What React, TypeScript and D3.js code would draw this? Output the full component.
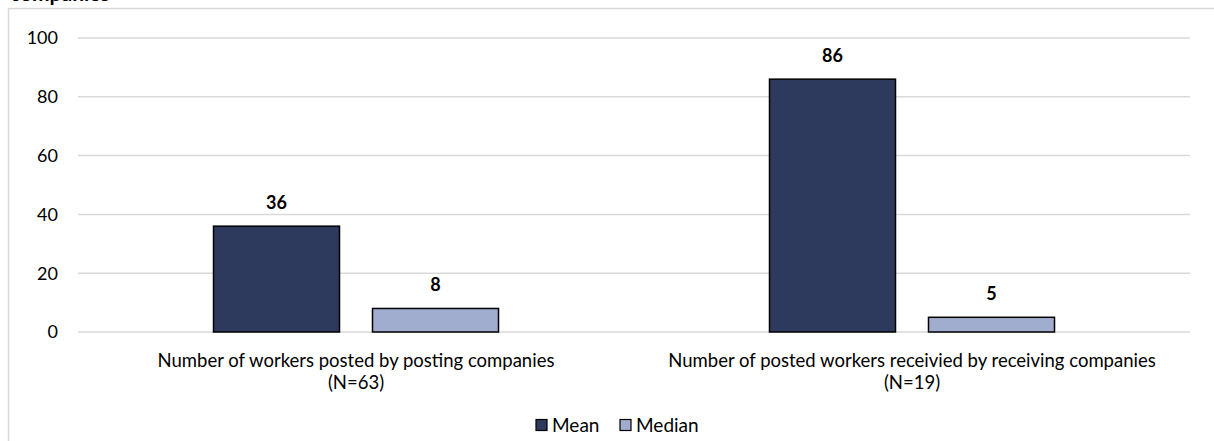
import React from "react";
import * as d3 from "d3";

const categories = [
  ["Number of workers posted by posting companies", "(N=63)"],
  ["Number of posted workers receivied by receiving companies", "(N=19)"],
];
const seriesNames = ["Mean", "Median"];
const meanValues = [36, 86];
const medianValues = [8, 5];
const yTicks = [0, 20, 40, 60, 80, 100];

const colors = ["#2d3a5e", "#a0adcf"];
const FONT = "Lato, 'Liberation Sans', sans-serif";

export default function App() {
  const W = 1214;
  const H = 441;
  const plotLeft = 78;
  const plotRight = 1190;
  const y = d3.scaleLinear().domain([0, 100]).range([332, 38]);
  const x0 = d3
    .scaleBand<number>()
    .domain(categories.map((_, i) => i))
    .range([plotLeft, plotRight])
    .paddingInner(0)
    .paddingOuter(0);
  const groupWidth = 285;
  const x1 = d3
    .scaleBand<number>()
    .domain([0, 1])
    .range([0, groupWidth])
    .paddingInner(33 / 159)
    .paddingOuter(0);
  const series = [meanValues, medianValues];

  return (
    <svg
      width={W}
      height={H}
      style={{ position: "absolute", left: 0, top: 0, background: "#fff" }}
      fontFamily={FONT}
    >
      <text x={10} y={1} fontSize={21} fontWeight="bold" fill="#000">
        companies
      </text>
      {/* chart frame */}
      <path d={`M8.5,${H + 2} V8.5 H${W + 2}`} fill="none" stroke="#d9d9d9" strokeWidth={1.5} />

      {/* gridlines and y tick labels */}
      {yTicks.map((t) => (
        <g key={t}>
          <line
            x1={plotLeft}
            x2={plotRight}
            y1={y(t)}
            y2={y(t)}
            stroke="#d9d9d9"
            strokeWidth={1.5}
          />
          <text
            x={58}
            y={y(t)}
            dy="0.35em"
            textAnchor="end"
            fontSize={18}
            fill="#000"
          >
            {t}
          </text>
        </g>
      ))}

      {/* bars */}
      {categories.map((_, ci) => {
        const gx = x0(ci)! + (x0.bandwidth() - groupWidth) / 2;
        return (
          <g key={ci} transform={`translate(${gx},0)`}>
            {series.map((vals, si) => {
              const v = vals[ci];
              const bx = x1(si)!;
              const bw = x1.bandwidth();
              return (
                <g key={si}>
                  <rect
                    x={bx}
                    y={y(v)}
                    width={bw}
                    height={y(0) - y(v)}
                    fill={colors[si]}
                    stroke="#000"
                    strokeWidth={1.5}
                  />
                  <text
                    x={bx + bw / 2}
                    y={y(v) - 17}
                    textAnchor="middle"
                    fontSize={18}
                    fontWeight="bold"
                    fill="#000"
                  >
                    {v}
                  </text>
                </g>
              );
            })}
          </g>
        );
      })}

      {/* category labels */}
      {categories.map((lines, ci) => {
        const cx = x0(ci)! + x0.bandwidth() / 2;
        return (
          <text key={ci} textAnchor="middle" fontSize={18.5} fill="#000">
            {lines.map((ln, li) => (
              <tspan key={li} x={cx} y={367 + li * 22}>
                {ln}
              </tspan>
            ))}
          </text>
        );
      })}

      {/* legend */}
      {seriesNames.map((name, i) => {
        const lx = [536, 620][i];
        return (
          <g key={name}>
            <rect
              x={lx}
              y={419.5}
              width={11}
              height={11}
              fill={colors[i]}
              stroke="#000"
              strokeWidth={1.2}
            />
            <text x={lx + 16} y={431.5} fontSize={19} fill="#000">
              {name}
            </text>
          </g>
        );
      })}
    </svg>
  );
}
